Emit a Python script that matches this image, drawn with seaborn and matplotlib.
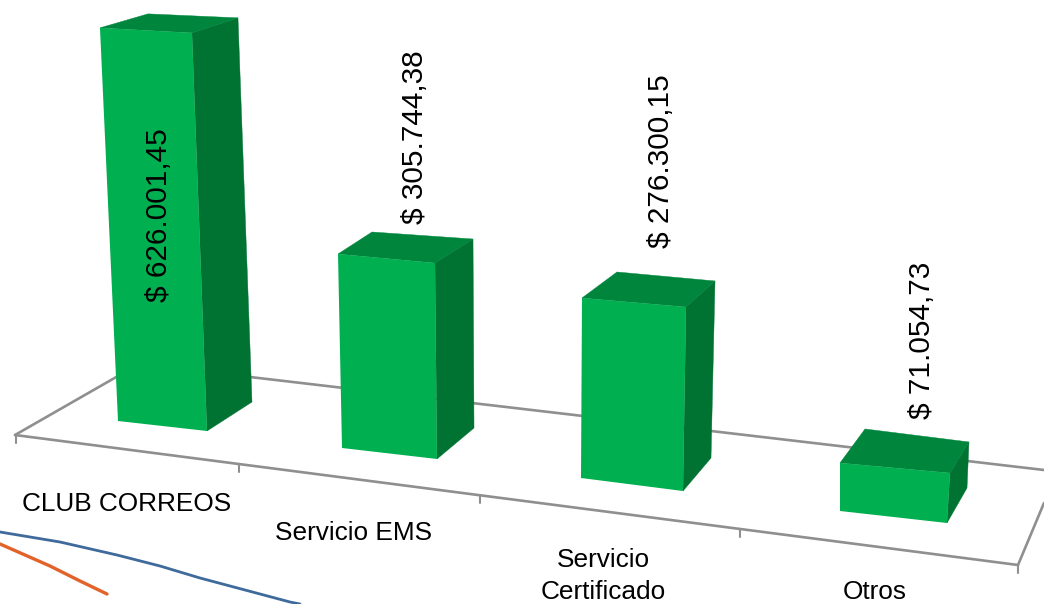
import numpy as np
import pandas as pd
import matplotlib
matplotlib.use("Agg")
import matplotlib.pyplot as plt
from matplotlib.patches import Polygon
from matplotlib.transforms import Transform
import seaborn as sns

# ---- data ----
categories = ["CLUB CORREOS", "Servicio EMS", "Servicio\nCertificado", "Otros"]
values = [626001.45, 305744.38, 276300.15, 71054.73]

# stray curves of the neighbouring chart, bottom left of the picture
blue_x = [0, 60, 117, 160, 200, 245, 290, 300]
blue_y = [532, 542, 555, 566, 578, 590, 602, 604]
orange_x = [0, 50, 80, 107]
orange_y = [544, 566, 581, 594]

# ---- perspective layout (pixels of the picture) ----
base_left = [(118, 421), (342, 448), (581, 478), (840, 511)]
base_right = [(207, 431), (437, 459), (683, 491), (947, 523)]
rise_left = [(-0.0288e-3, -0.628e-3), (-0.0131e-3, -0.6345e-3), (0.0036e-3, -0.6515e-3), (0.0, -0.676e-3)]
rise_right = [(-0.024e-3, -0.636e-3), (-0.0065e-3, -0.641e-3), (0.0109e-3, -0.666e-3), (0.042e-3, -0.704e-3)]
depth_top_left = [(48, -14), (34, -22), (35, -26), (25, -34)]
depth_top_right = [(46, -15), (38, -24), (29, -26), (19, -31)]
depth_bottom_right = [(45, -29), (37, -31), (28, -33), (20, -35)]
label_pos = [(159, 215), (415, 137), (661, 161), (922, 340)]
cat_pos = [(127, 504), (354, 533), (603, 576), (875, 592)]
floor_front = [(15, 435), (1018, 565)]
floor_left = [(15, 435), (139, 364)]
floor_back = [(139, 364), (1044, 470)]
floor_right = [(1018, 565), (1044, 503)]
tick_x = [16, 239, 480, 740, 1018]

FRONT = "#00B050"
SIDE = "#007232"
TOP = "#00853D"
GRID = "#8F8F8F"

sns.set_style("white")
plt.rcParams["font.family"] = ["Liberation Sans", "DejaVu Sans"]


def money(v):
    s = f"{v:,.2f}".replace(",", "X").replace(".", ",").replace("X", ".")
    return "$ " + s


class BarProjection(Transform):
    """Maps a bar's (category, value) box onto its perspective front face."""
    input_dims = 2
    output_dims = 2
    is_separable = False

    def __init__(self, x0, x1, bl, br, rl, rr):
        super().__init__()
        self.x0, self.x1 = x0, x1
        self.bl, self.br = np.array(bl, float), np.array(br, float)
        self.rl, self.rr = np.array(rl, float), np.array(rr, float)

    def transform_non_affine(self, xy):
        xy = np.asarray(xy, float)
        t = ((xy[:, 0] - self.x0) / (self.x1 - self.x0))[:, None]
        v = xy[:, 1][:, None]
        left = self.bl + v * self.rl
        right = self.br + v * self.rr
        return left * (1 - t) + right * t


fig = plt.figure(figsize=(10.44, 6.04), dpi=100)

# pixel-space axes with the floor of the 3-D chart
pix = fig.add_axes([0, 0, 1, 1], zorder=0)
pix.set_xlim(0, 1044)
pix.set_ylim(604, 0)
pix.axis("off")

for seg in (floor_front, floor_left, floor_back, floor_right):
    xs, ys = zip(*seg)
    pix.plot(xs, ys, color=GRID, lw=1.9, solid_capstyle="round")
(fx0, fy0), (fx1, fy1) = floor_front
for tx in tick_x:
    ty = fy0 + (fy1 - fy0) * (tx - fx0) / (fx1 - fx0)
    pix.plot([tx, tx], [ty, ty + 8], color=GRID, lw=1.5)

sns.lineplot(x=blue_x, y=blue_y, ax=pix, color="#3F6A9C", lw=2.0, sort=False, errorbar=None)
sns.lineplot(x=orange_x, y=orange_y, ax=pix, color="#E2622A", lw=2.4, sort=False, errorbar=None)
pix.set_xlim(0, 1044)
pix.set_ylim(604, 0)

# bars through seaborn, then placed in perspective
ax = fig.add_axes([0, 0, 1, 1], zorder=1)
ax.patch.set_alpha(0)
df = pd.DataFrame({"cat": categories, "val": values})
sns.barplot(data=df, x="cat", y="val", color=FRONT, saturation=1, width=0.8, ax=ax, linewidth=0)
ax.axis("off")

for i, p in enumerate(ax.patches):
    x0, w, h = p.get_x(), p.get_width(), p.get_height()
    proj = BarProjection(x0, x0 + w, base_left[i], base_right[i], rise_left[i], rise_right[i])
    p.set_transform(proj + pix.transData)
    (tl, tr, br) = proj.transform_non_affine(np.array([[x0, h], [x0 + w, h], [x0 + w, 0.0]]))
    back_tl = tl + depth_top_left[i]
    back_tr = tr + depth_top_right[i]
    back_br = br + depth_bottom_right[i]
    ax.add_patch(Polygon([tr, back_tr, back_br, br], closed=True, facecolor=SIDE, edgecolor=SIDE,
                         lw=0.3, transform=pix.transData, zorder=3))
    ax.add_patch(Polygon([tl, back_tl, back_tr, tr], closed=True, facecolor=TOP, edgecolor=TOP,
                         lw=0.3, transform=pix.transData, zorder=3))
    p.set_zorder(4)
    lx, ly = label_pos[i]
    ax.text(lx, ly, money(values[i]), transform=pix.transData, rotation=90,
            ha="center", va="center", fontsize=21.4, color="black", zorder=6)
    cx, cy = cat_pos[i]
    ax.text(cx, cy, categories[i], transform=pix.transData, ha="center", va="center",
            fontsize=18.9, color="black", linespacing=1.38, zorder=6, multialignment="center")

fig.savefig("out.png", dpi=100, facecolor="white")
